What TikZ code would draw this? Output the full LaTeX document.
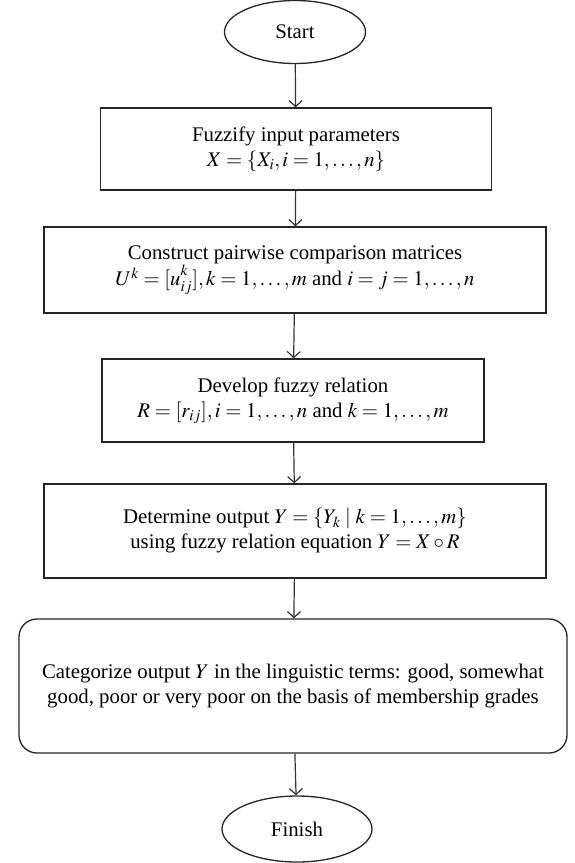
\documentclass[tikz,border=0pt]{standalone}
\usepackage{mathptmx}
\usepackage{fontspec}
\setmainfont{Liberation Serif}
\usetikzlibrary{shapes.geometric,arrows.meta}
\tikzset{
  base/.style={draw=black!85, line width=1.3pt, align=center, inner sep=0pt,
    font=\fontsize{20.8}{25}\selectfont},
  procbox/.style={base, rectangle},
  roundbox/.style={base, rectangle, rounded corners=18pt},
  term/.style={base, ellipse},
  arr/.style={draw=black!80, line width=1.2pt, -{Straight Barb[length=6pt,width=13pt,line width=1.2pt]}}
}
\begin{document}
\begin{tikzpicture}[x=1pt,y=-1pt]
\useasboundingbox (0,0) rectangle (575,863);
\node[term, minimum width=141pt, minimum height=63pt] (start) at (295,32) {Start};
\node[procbox, minimum width=391pt, minimum height=82pt] (b1) at (296,149)
  {Fuzzify input parameters\\ $X=\{X_i, i=1,\ldots,n\}$};
\node[procbox, minimum width=502pt, minimum height=86pt] (b2) at (295,270)
  {Construct pairwise comparison matrices\\ $U^k=[u^{\raisebox{3pt}{$\scriptstyle k$}}_{ij}], k=1,\ldots,m$ and $i=j=1,\ldots,n$};
\node[procbox, minimum width=382pt, minimum height=83pt] (b3) at (293,400.5)
  {Develop fuzzy relation\\ $R=[r_{ij}], i=1,\ldots,n$ and $k=1,\ldots,m$};
\node[procbox, minimum width=502pt, minimum height=94pt] (b4) at (295,531)
  {Determine output $Y=\{Y_k\mid k=1,\ldots,m\}$\\ using fuzzy relation equation $Y=X\circ R$};
\node[roundbox, minimum width=548pt, minimum height=134pt] (b5) at (293,686)
  {Categorize output $Y$ in the linguistic terms: good, somewhat\\ good, poor or very poor on the basis of membership grades};
\node[term, minimum width=150pt, minimum height=66pt] (finish) at (297,829) {Finish};
\draw[arr] (start) -- (b1);
\draw[arr] (b1) -- (b2);
\draw[arr] (b2) -- (b3);
\draw[arr] (b3) -- (b4);
\draw[arr] (b4) -- (b5);
\draw[arr] (b5) -- (finish);
\end{tikzpicture}
\end{document}
